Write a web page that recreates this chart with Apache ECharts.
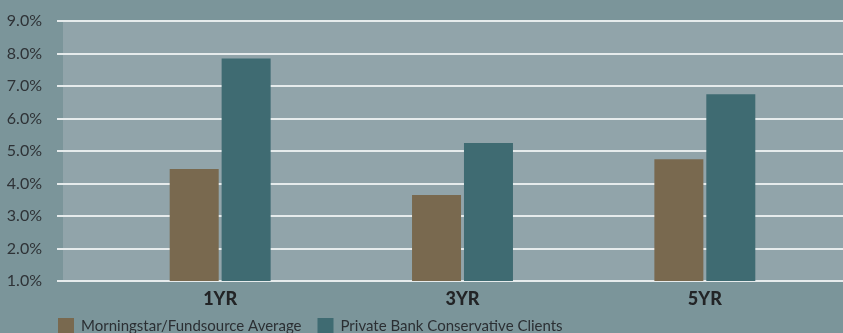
<!DOCTYPE html>
<html><head><meta charset="utf-8">
<script src="https://cdn.jsdelivr.net/npm/echarts@6/dist/echarts.min.js"></script>
<style>html,body{margin:0;padding:0;background:#7b959a;}#c{width:843px;height:333px;}</style>
</head><body><div id="c"></div>
<script>
const categories = ['1YR', '3YR', '5YR'];
const morningstar = [4.45, 3.65, 4.75];
const privateBank = [7.85, 5.25, 6.75];
const seriesNames = ['Morningstar/Fundsource Average', 'Private Bank Conservative Clients'];
const yMin = 1, yMax = 9, yStep = 1;

const chart = echarts.init(document.getElementById('c'));
const fontFam = 'Lato, "Open Sans", sans-serif';
chart.setOption({
  backgroundColor: '#7b959a',
  animation: false,
  grid: [
    {left: 63, right: 0, top: 21, bottom: 52, show: true, backgroundColor: '#91a4aa', borderWidth: 0},
    {left: 99, right: 17, top: 21, bottom: 52}
  ],
  legend: {
    data: seriesNames,
    left: 58, top: 318, padding: 0,
    itemWidth: 16, itemHeight: 16, itemGap: 16,
    icon: 'rect',
    textStyle: {fontFamily: fontFam, fontSize: 15, color: '#2b2f33', padding: [2,0,0,2]}
  },
  xAxis: [
    {type: 'category', gridIndex: 0, data: categories, show: false},
    {type: 'category', gridIndex: 1, data: categories,
     axisLine: {show: false}, axisTick: {show: false},
     axisLabel: {fontFamily: fontFam, fontSize: 18, fontWeight: 900, color: '#222426', margin: 9}}
  ],
  yAxis: [
    {type: 'value', gridIndex: 0, min: yMin, max: yMax, interval: yStep,
     axisLine: {show: false},
     axisTick: {show: true, length: 6, lineStyle: {color: '#e6ebec', width: 2}},
     axisLabel: {formatter: v => v.toFixed(1) + '%', fontFamily: fontFam, fontSize: 16, color: '#2e3236', margin: 21},
     splitLine: {lineStyle: {color: '#e6ebec', width: 2}}},
    {type: 'value', gridIndex: 1, min: yMin, max: yMax, interval: yStep, show: false, splitLine: {show: false}}
  ],
  series: [
    {name: seriesNames[0], type: 'bar', xAxisIndex: 1, yAxisIndex: 1, data: morningstar,
     barWidth: 49, barGap: '6%', itemStyle: {color: '#79694f'}},
    {name: seriesNames[1], type: 'bar', xAxisIndex: 1, yAxisIndex: 1, data: privateBank,
     barWidth: 49, barGap: '6%', itemStyle: {color: '#3f6b72'}}
  ]
});
</script></body></html>
